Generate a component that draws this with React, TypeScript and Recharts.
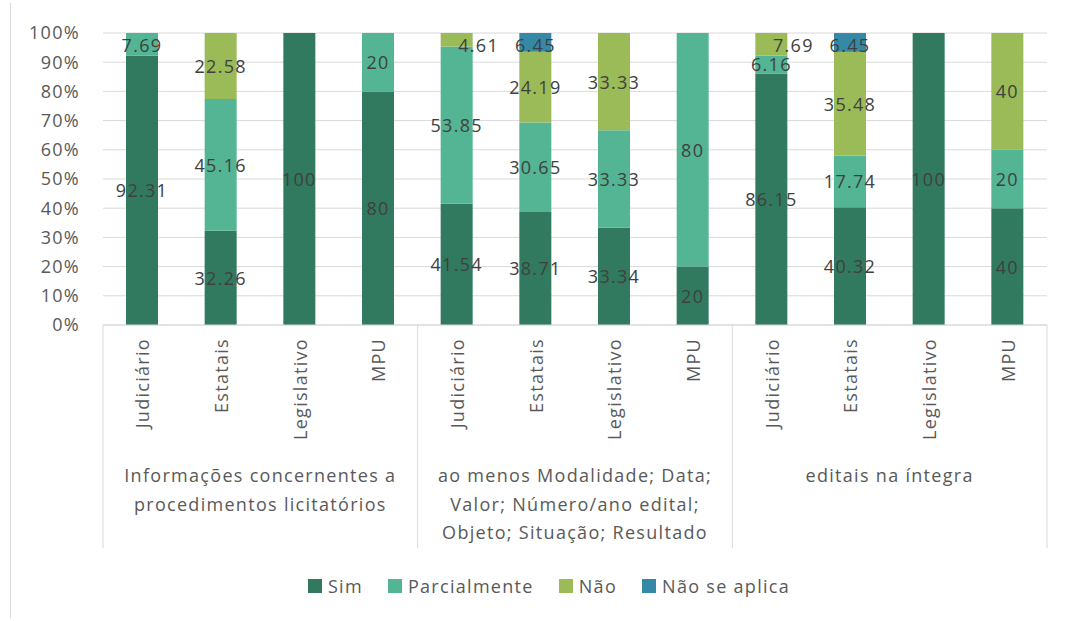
import React from "react";
import {
  BarChart,
  Bar,
  XAxis,
  YAxis,
  CartesianGrid,
  Legend,
  LabelList,
} from "recharts";

const categories = [
  "Judiciário", "Estatais", "Legislativo", "MPU",
  "Judiciário", "Estatais", "Legislativo", "MPU",
  "Judiciário", "Estatais", "Legislativo", "MPU",
];
const groupLabels = [
  ["Informações concernentes a", "procedimentos licitatórios"],
  ["ao menos Modalidade; Data;", "Valor; Número/ano edital;", "Objeto; Situação; Resultado"],
  ["editais na íntegra"],
];
const sim = [92.31, 32.26, 100, 80, 41.54, 38.71, 33.34, 20, 86.15, 40.32, 100, 40];
const parcialmente = [7.69, 45.16, 0, 20, 53.85, 30.65, 33.33, 80, 6.16, 17.74, 0, 20];
const nao = [0, 22.58, 0, 0, 4.61, 24.19, 33.33, 0, 7.69, 35.48, 0, 40];
const naoSeAplica = [0, 0, 0, 0, 0, 6.45, 0, 0, 0, 6.45, 0, 0];
const yTicks = [0, 10, 20, 30, 40, 50, 60, 70, 80, 90, 100];

const series = [
  { key: "sim", name: "Sim", color: "#317a5f" },
  { key: "parcialmente", name: "Parcialmente", color: "#53b593" },
  { key: "nao", name: "Não", color: "#9bbb58" },
  { key: "naoSeAplica", name: "Não se aplica", color: "#3589a7" },
];

const data = categories.map((name, i) => ({
  name,
  group: Math.floor(i / 4),
  sim: sim[i] || null,
  parcialmente: parcialmente[i] || null,
  nao: nao[i] || null,
  naoSeAplica: naoSeAplica[i] || null,
}));

const FONT = "'Open Sans', sans-serif";
const TEXT = { fontFamily: FONT, fontSize: 18, letterSpacing: 1.3 };
const PLOT_TOP = 33;
const AXIS_H = 223;

function CategoryTick(props: any) {
  const { x, y, index, payload } = props;
  const half = payload?.offset ?? 39.3;
  const perGroup = 4;
  const g = Math.floor(index / perGroup);
  const first = index % perGroup === 0;
  const last = index === categories.length - 1;
  return (
    <g>
      <text
        x={x}
        y={y + 13}
        transform={`rotate(-90, ${x}, ${y + 13})`}
        textAnchor="end"
        dominantBaseline="central"
        fill="#595959"
        style={TEXT}
      >
        {payload.value}
      </text>
      {first && (
        <line x1={x - half} x2={x - half} y1={y} y2={y + AXIS_H} stroke="#d9d9d9" />
      )}
      {last && (
        <line x1={x + half} x2={x + half} y1={y} y2={y + AXIS_H} stroke="#d9d9d9" />
      )}
      {first &&
        groupLabels[g].map((line, li) => (
          <text
            key={li}
            x={x + half * 3}
            y={y + 150 + li * 28.5}
            textAnchor="middle"
            dominantBaseline="central"
            fill="#595959"
            style={TEXT}
          >
            {line}
          </text>
        ))}
    </g>
  );
}

// keep labels inside the plot, push the thin "Não" ones aside like the original
function makeLabel(seriesKey: string) {
  return (props: any) => {
    const { x, y, width, height, value } = props;
    if (!value) return null;
    let cy = y + height / 2;
    if (cy < PLOT_TOP + 12) cy = PLOT_TOP + 12;
    const dx = seriesKey === "nao" && value < 8 ? 22 : 0;
    return (
      <text
        x={x + width / 2 + dx}
        y={cy}
        textAnchor="middle"
        dominantBaseline="central"
        fill="#404040"
        style={TEXT}
      >
        {value}
      </text>
    );
  };
}

function LegendContent() {
  return (
    <div
      style={{
        display: "flex",
        justifyContent: "center",
        alignItems: "center",
        height: 30,
        paddingLeft: 27,
        gap: 25,
        fontFamily: FONT,
        fontSize: 18,
        letterSpacing: 1.3,
        color: "#595959",
      }}
    >
      {series.map((s) => (
        <div key={s.key} style={{ display: "flex", alignItems: "center" }}>
          <span style={{ width: 14, height: 14, background: s.color, marginRight: 6 }} />
          <span>{s.name}</span>
        </div>
      ))}
    </div>
  );
}

export default function App() {
  return (
    <div
      style={{
        position: "absolute",
        left: 0,
        top: 0,
        width: 1071,
        height: 621,
        background: "#fff",
      }}
    >
      <div
        style={{
          position: "absolute",
          left: 10,
          top: 3,
          width: 1,
          height: 615,
          background: "#d9d9d9",
        }}
      />
      <BarChart
        width={1071}
        height={621}
        data={data}
        margin={{ top: PLOT_TOP, right: 24, bottom: 43, left: 0 }}
        barSize={32}
      >
        <CartesianGrid vertical={false} stroke="#d9d9d9" />
        <XAxis
          dataKey="name"
          height={AXIS_H}
          interval={0}
          tickLine={false}
          tickSize={0}
          tickMargin={0}
          axisLine={{ stroke: "#d9d9d9" }}
          tick={<CategoryTick />}
        />
        <YAxis
          width={103}
          domain={[0, 100]}
          ticks={yTicks}
          allowDataOverflow
          axisLine={false}
          tickLine={false}
          tickMargin={17}
          tickFormatter={(v: number) => `${v}%`}
          tick={{ fill: "#595959", ...TEXT }}
        />
        <Legend
          verticalAlign="bottom"
          height={30}
          content={<LegendContent />}
          wrapperStyle={{ left: 0, width: 1071, bottom: 20 }}
        />
        {series.map((s) => (
          <Bar
            key={s.key}
            dataKey={s.key}
            name={s.name}
            stackId="a"
            fill={s.color}
            isAnimationActive={false}
          >
            <LabelList dataKey={s.key} content={makeLabel(s.key)} />
          </Bar>
        ))}
      </BarChart>
    </div>
  );
}
